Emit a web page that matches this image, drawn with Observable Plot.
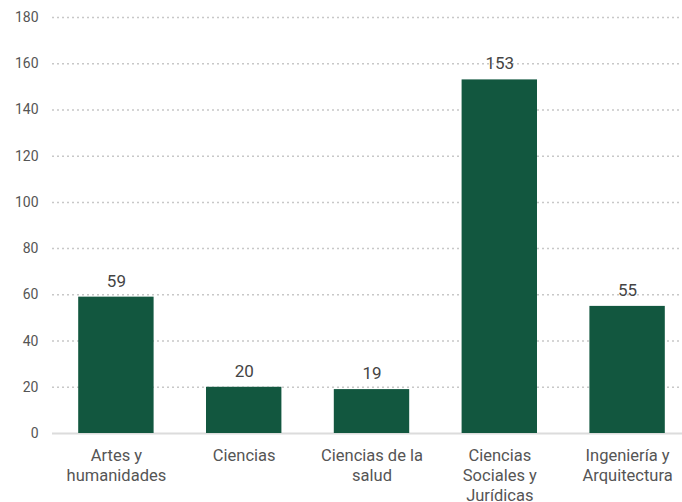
<!DOCTYPE html>
<html><head><meta charset="utf-8">
<script src="https://cdn.jsdelivr.net/npm/d3@7"></script>
<script src="https://cdn.jsdelivr.net/npm/@observablehq/plot@0.6"></script>
<style>body{margin:0;background:#fff;font-family:Roboto,sans-serif}</style>
</head><body><div id="chart"></div>
<script>
const categories = ["Artes y\nhumanidades", "Ciencias", "Ciencias de la\nsalud", "Ciencias\nSociales y\nJurídicas", "Ingeniería y\nArquitectura"];
const values = [59, 20, 19, 153, 55];
const yTicks = [0, 20, 40, 60, 80, 100, 120, 140, 160, 180];
const data = categories.map((c, i) => ({cat: c, value: values[i]}));

const chart = Plot.plot({
  width: 682, height: 502,
  marginTop: 17, marginBottom: 69, marginLeft: 52, marginRight: 0,
  style: {fontFamily: "Roboto, sans-serif", fontSize: "14px", color: "#555", background: "#fff"},
  x: {domain: categories, range: [52, 691], round: false, paddingInner: 0.41, paddingOuter: 0.205, label: null},
  y: {domain: [0, 180], ticks: yTicks, label: null},
  marks: [
    Plot.ruleY(yTicks.filter(d => d > 0), {stroke: "#c8c8c8", strokeWidth: 1.5, strokeDasharray: "2,3"}),
    Plot.ruleY([0], {stroke: "#dcdcdc", strokeWidth: 2}),
    Plot.barY(data, {x: "cat", y: "value", fill: "#12573f"}),
    Plot.text(data, {x: "cat", y: "value", text: d => String(d.value), dy: -16, fontSize: 17, fill: "#444"}),
    Plot.axisY({ticks: yTicks, tickSize: 0, tickPadding: 14, fontSize: 14, fill: "#555"}),
    Plot.axisX({tickSize: 0, tickPadding: 13, fontSize: 16.5, fill: "#555", lineHeight: 1.22})
  ]
});
document.getElementById("chart").appendChild(chart);
</script></body></html>
